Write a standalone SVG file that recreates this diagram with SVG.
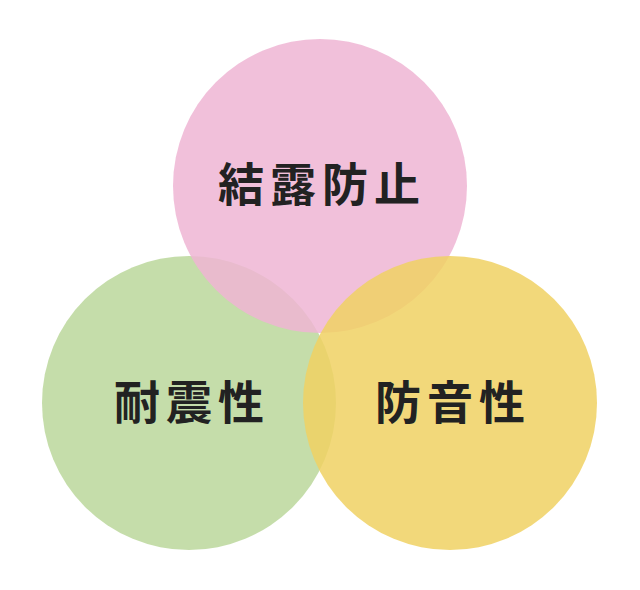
<svg xmlns="http://www.w3.org/2000/svg" width="640" height="590" viewBox="0 0 640 590">
<style>
.c{opacity:0.85}
.t{font-family:"Noto Sans CJK JP","Noto Sans CJK SC",sans-serif;font-weight:700;font-size:46px;fill:#222;letter-spacing:6px;text-anchor:middle}
</style>
<rect width="640" height="590" fill="#fff"/>
<g id="node-taishin"><circle class="c" cx="189" cy="403" r="147" fill="#BBD79B"/></g>
<g id="node-ketsuro"><circle class="c" cx="320" cy="186" r="147" fill="#EEB5D3"/></g>
<g id="node-boon"><circle class="c" cx="450" cy="403" r="147" fill="#F0D163"/></g>
<g id="labels">
<text class="t" x="322" y="201">結露防止</text>
<text class="t" x="192" y="419">耐震性</text>
<text class="t" x="453" y="419">防音性</text>
</g>
<g id="connectors"/>
</svg>
